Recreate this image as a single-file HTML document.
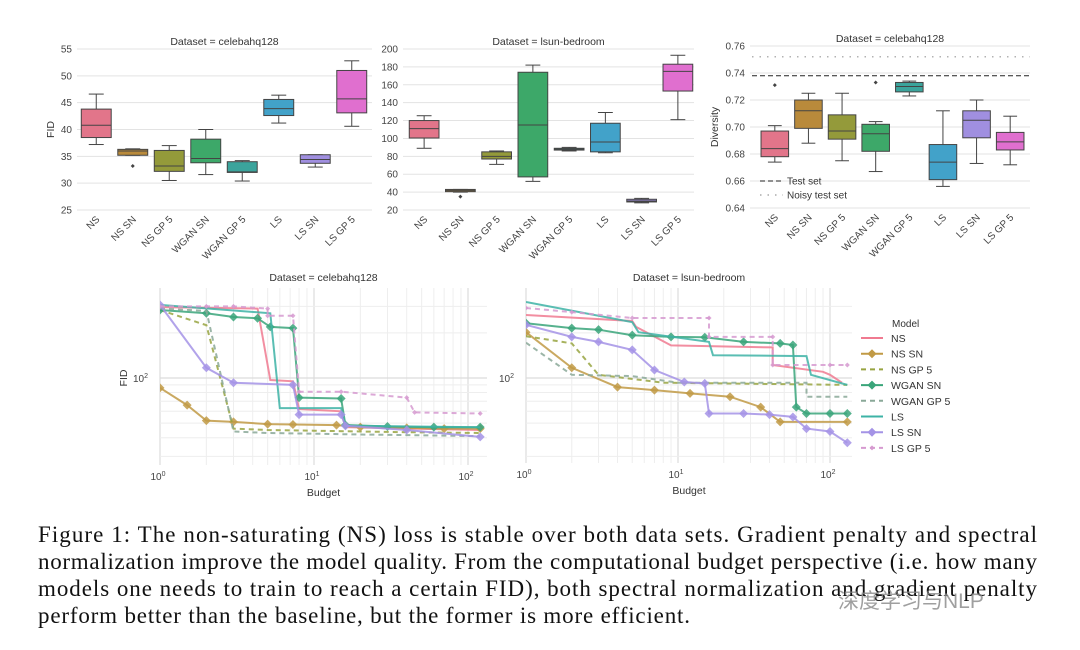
<!DOCTYPE html>
<html><head><meta charset="utf-8"><style>
body{margin:0;background:#fff;}
svg{display:block;font-family:"Liberation Sans","DejaVu Sans",sans-serif;}
</style></head><body>
<svg id="fig" width="1080" height="650" viewBox="0 0 1080 650">
<rect width="1080" height="650" fill="#fff"/>
<g font-family="'Liberation Serif',serif" font-size="23" fill="#111">
<text x="38" y="542" textLength="999" lengthAdjust="spacing">Figure 1: The non-saturating (NS) loss is stable over both data sets. Gradient penalty and spectral</text>
<text x="38" y="569" textLength="999" lengthAdjust="spacing">normalization improve the model quality. From the computational budget perspective (i.e. how many</text>
<text x="38" y="596" textLength="999" lengthAdjust="spacing">models one needs to train to reach a certain FID), both spectral normalization and gradient penalty</text>
<text x="38" y="623" textLength="652" lengthAdjust="spacing">perform better than the baseline, but the former is more efficient.</text>
</g>
<text x="838" y="608" font-size="21" fill="#888" font-family="'Liberation Sans','Noto Sans CJK SC',sans-serif" opacity="0.8">深度学习与NLP</text>
</svg>
<script>
const cats = ['NS','NS SN','NS GP 5','WGAN SN','WGAN GP 5','LS','LS SN','LS GP 5'];
const boxColors = ['#e2758a','#b98a3b','#949a3a','#3da869','#3ba49c','#42a2c9','#a08fe0','#e06fcf'];
// [min, q1, median, q3, max]
const celebaFID = [[37.2,38.5,40.8,43.8,46.6],[35.2,35.2,36.0,36.3,36.4],[30.5,32.2,33.2,36.1,37.0],[31.6,33.8,34.6,38.2,40.0],[30.4,32.0,32.1,34.0,34.2],[41.2,42.6,43.9,45.6,46.4],[33.0,33.7,34.4,35.3,35.3],[40.6,43.1,45.7,51.0,52.8]];
const celebaOut = [[],[33.2],[],[],[],[],[],[]];
const lsunFID = [[89,100.5,111,120,125.4],[40,40.5,42,43,43],[71,77,80,85,86],[52,57,115,174,182],[86,87,88,89,90],[84,85,96,117,129],[28,29,30,32,33],[121,153,175,183,193]];
const lsunOut = [[],[35],[],[],[],[],[],[]];
const divData = [[0.674,0.678,0.684,0.697,0.701],[0.688,0.699,0.712,0.720,0.725],[0.675,0.691,0.697,0.709,0.725],[0.667,0.682,0.695,0.702,0.704],[0.723,0.726,0.730,0.733,0.734],[0.656,0.661,0.674,0.687,0.712],[0.673,0.692,0.705,0.712,0.720],[0.672,0.683,0.689,0.696,0.708]];
const divOut = [[0.731],[],[],[0.733],[],[],[],[]];
const celebaTicks = [25,30,35,40,45,50,55];
const lsunTicks = [20,40,60,80,100,120,140,160,180,200];
const divTicks = [0.64,0.66,0.68,0.70,0.72,0.74,0.76];
const testSet = 0.738;
const noisyTestSet = 0.752;

const lineColors = ['#f07a90','#c19a45','#98a441','#3aa57a','#8aa898','#3db3a6','#a493e6','#d69ad0'];
const lineDash = ['','','5,4','','5,4','','','5,4'];
const lineMarker = [false,true,false,true,false,false,true,true];
const celebaB = [
 [1,4.3,5.2,7.3,8,15,16,120],
 [1,1.5,2,3,5,7.3,14,20,40,70,120],
 [1,2,3,5,10,20,40,120],
 [1,2,3,4.3,5.2,7.3,8,15,16,30,60,120],
 [1,2,3,5,10,20,50,120],
 [1,5.2,6,15,16,120],
 [1,2,3,7.3,8,15,16,40,120],
 [1,2,3,5,5,7.3,8,15,40,45,120]];
const celebaV = [
 [297,290,97,95,62,60,47,45],
 [86,66,52,51,49.3,49,48.5,47,46.5,46,46],
 [284,225,46,45,44.5,44,43.5,43],
 [284,270,255,250,219,215,74,73,48.6,47.5,47,47],
 [290,280,44,43,42.5,42,41.5,41],
 [307,270,63,63,48,47],
 [307,117,93,90,57,57,48,45,40.5],
 [300,300,300,290,260,260,81,81,74,59,58]];
const lsunB = [
 [1,5,5.3,9,42,42,90,100,120],
 [1,2,4,7,12,22,35,47,130],
 [1,2,3,8,130],
 [1,2,3,5,9,15,27,47,57,60,70,100,130],
 [1,2,5,10,70,70,130],
 [1,5,5.5,16,17,70,75,130],
 [1,2,3,5,7,11,15,16,27,40,57,70,100,130],
 [1,2,5,16,16,42,42,100,130]];
const lsunV = [
 [263,240,219,165,160,122,110,105,93],
 [202,117,87,83,79,75,64,51,51],
 [190,170,105,93,90],
 [232,215,210,193,188,187,174,170,166,64,58,58,58],
 [172,105,103,93,93,75,75],
 [321,236,202,174,142,140,105,90],
 [226,188,174,154,113,94,92,58,58,57,55,46,44,37],
 [293,275,251,251,188,188,122,122,122]];

const NS = 'http://www.w3.org/2000/svg';
const svg = document.getElementById('fig');
function mk(tag, attrs, parent){
  const e = document.createElementNS(NS, tag);
  for (const k in attrs) e.setAttribute(k, attrs[k]);
  (parent||svg).appendChild(e);
  return e;
}
function txt(s, attrs, parent){ const t = mk('text', attrs, parent); t.textContent = s; return t; }

function boxPanel(p){
  const g = mk('g', {});
  
  
  const fy = v => p.y1 - (v - p.vmin) / (p.vmax - p.vmin) * (p.y1 - p.y0);
  p.ticks.forEach(t => {
    const y = fy(t);
    const l = mk('line', {x1:p.gx0, x2:p.gx1, y1:y, y2:y, stroke:'#e3e3e3', 'stroke-width':1}, g);
    
    
    const lab = txt(p.fmt(t), {x:p.gx0-5, y:y+3.5, 'font-size':10, fill:'#444', 'text-anchor':'end'}, g);
    
    
  });
  const band = (p.x1 - p.x0) / cats.length;
  const bw = band * 0.82;
  if (p.refs) p.refs(g, fy);
  cats.forEach((c, i) => {
    const cx = p.x0 + band * (i + 0.5);
    const d = p.data[i];
    const bg = mk('g', {}, g);
    
    
    mk('line', {x1:cx, x2:cx, y1:fy(d[0]), y2:fy(d[1]), stroke:'#444', 'stroke-width':1}, bg);
    mk('line', {x1:cx, x2:cx, y1:fy(d[3]), y2:fy(d[4]), stroke:'#444', 'stroke-width':1}, bg);
    mk('line', {x1:cx-bw/4, x2:cx+bw/4, y1:fy(d[0]), y2:fy(d[0]), stroke:'#444', 'stroke-width':1}, bg);
    mk('line', {x1:cx-bw/4, x2:cx+bw/4, y1:fy(d[4]), y2:fy(d[4]), stroke:'#444', 'stroke-width':1}, bg);
    mk('rect', {x:cx-bw/2, y:fy(d[3]), width:bw, height:Math.max(1.5, fy(d[1])-fy(d[3])), fill:boxColors[i], stroke:'#444', 'stroke-width':1}, bg);
    mk('line', {x1:cx-bw/2, x2:cx+bw/2, y1:fy(d[2]), y2:fy(d[2]), stroke:'#444', 'stroke-width':1}, bg);
    p.out[i].forEach(o => {
      const dot = mk('path', {d:`M${cx},${fy(o)-2}L${cx+2},${fy(o)}L${cx},${fy(o)+2}L${cx-2},${fy(o)}Z`, fill:'#444'}, bg);
      
      
    });
    const lab = txt(c, {x:0, y:0, 'font-size':10, fill:'#444', 'text-anchor':'end', transform:`translate(${cx+4},${p.y1+10}) rotate(-45)`}, g);
    
    
  });
  const tt = txt(p.title, {x:(p.gx0+p.gx1)/2, y:p.y0-4, 'font-size':10.5, fill:'#333', 'text-anchor':'middle'}, g);
  
  
  if (p.ylabel){
    const yl = txt(p.ylabel, {x:0, y:0, 'font-size':10.5, fill:'#333', 'text-anchor':'middle', transform:`translate(${p.ylx},${(p.y0+p.y1)/2}) rotate(-90)`}, g);
    
    
  }
}

boxPanel({name:'celeba-fid-boxplot', title:'Dataset = celebahq128', x0:78, x1:370, gx0:77, gx1:372, y0:49, y1:210, vmin:25, vmax:55, ticks:celebaTicks, fmt:t=>String(t), data:celebaFID, out:celebaOut, ylabel:'FID', ylx:54});
boxPanel({name:'lsun-fid-boxplot', title:'Dataset = lsun-bedroom', x0:406, x1:696, gx0:403, gx1:694, y0:49, y1:210, vmin:20, vmax:200, ticks:lsunTicks, fmt:t=>String(t), data:lsunFID, out:lsunOut});
boxPanel({name:'diversity-boxplot', title:'Dataset = celebahq128', x0:758, x1:1027, gx0:750, gx1:1030, y0:46, y1:208, vmin:0.64, vmax:0.76, ticks:divTicks, fmt:t=>t.toFixed(2), data:divData, out:divOut, ylabel:'Diversity', ylx:718,
  refs:(g, fy)=>{
    const a = mk('line', {x1:752, x2:1030, y1:fy(testSet), y2:fy(testSet), stroke:'#222', 'stroke-width':1, 'stroke-dasharray':'5,3'}, g);
    
    
    const b = mk('line', {x1:752, x2:1030, y1:fy(noisyTestSet), y2:fy(noisyTestSet), stroke:'#999', 'stroke-width':1.2, 'stroke-dasharray':'1.5,6'}, g);
    
    
    const lg = mk('g', {}, g);
    
    
    mk('line', {x1:760, x2:783, y1:181, y2:181, stroke:'#222', 'stroke-dasharray':'5,3'}, lg);
    txt('Test set', {x:787, y:184.5, 'font-size':10, fill:'#333'}, lg);
    mk('line', {x1:760, x2:783, y1:195, y2:195, stroke:'#999', 'stroke-width':1.2, 'stroke-dasharray':'1.5,6'}, lg);
    txt('Noisy test set', {x:787, y:198.5, 'font-size':10, fill:'#333'}, lg);
  }});

function linePanel(p){
  const g = mk('g', {});
  
  
  const fx = b => p.x0 + Math.log10(b) * p.dec;
  const fy = v => p.yRef - (Math.log10(v) - 2) * 150;
  for (let d = 0; d <= 2; d++) for (let k = 1; k <= 9; k++){
    const x = fx(k * Math.pow(10, d));
    if (x > p.x1) continue;
    mk('line', {x1:x, x2:x, y1:p.y0, y2:p.y1, stroke:k===1?'#dcdcdc':'#eeeeee', 'stroke-width':k===1?1.2:1}, g);
  }
  [20,30,40,50,60,70,80,90,100,200,300,400].forEach(v => {
    const y = fy(v);
    if (y < p.y0 || y > p.y1) return;
    mk('line', {x1:p.x0, x2:p.x1, y1:y, y2:y, stroke:v===100?'#dcdcdc':'#eeeeee', 'stroke-width':v===100?1.2:1}, g);
  });
  const clipId = 'clip-' + p.name;
  const cp = mk('clipPath', {id:clipId}, g);
  mk('rect', {x:p.x0, y:p.y0, width:p.x1-p.x0, height:p.y1-p.y0}, cp);
  const sg = mk('g', {'clip-path':`url(#${clipId})`}, g);
  cats.forEach((c, i) => {
    const B = p.B[i], V = p.V[i];
    const pts = B.map((b, j) => `${fx(b).toFixed(1)},${fy(V[j]).toFixed(1)}`).join(' ');
    const pl = mk('polyline', {points:pts, fill:'none', stroke:lineColors[i], 'stroke-width':2, 'stroke-dasharray':lineDash[i], opacity:0.85}, sg);
    
    
    if (lineMarker[i]) B.forEach((b, j) => {
      const x = fx(b), y = fy(V[j]), r = i === 7 ? 2.5 : 4.5;
      const m = mk('path', {d:`M${x},${y-r}L${x+r},${y}L${x},${y+r}L${x-r},${y}Z`, fill:lineColors[i], opacity:0.85}, sg);
      
      
    });
  });
  ['0','1','2'].forEach((e, d) => {
    const x = fx(Math.pow(10, d));
    const t = txt('10', {x:x-2, y:p.y1+15, 'font-size':10, fill:'#444', 'text-anchor':'middle'}, g);
    const s = mk('tspan', {dy:-4, 'font-size':7}, t); s.textContent = e;
    
    
  });
  const yt = txt('10', {x:p.x0-12, y:fy(100)+4, 'font-size':10, fill:'#444', 'text-anchor':'end'}, g);
  const ys = mk('tspan', {dy:-4, 'font-size':7}, yt); ys.textContent = '2';
  
  
  const tt = txt(p.title, {x:(p.x0+p.x1)/2, y:p.y0-7, 'font-size':10.5, fill:'#333', 'text-anchor':'middle'}, g);
  
  
  const xl = txt('Budget', {x:(p.x0+p.x1)/2, y:p.y1+31, 'font-size':10.5, fill:'#333', 'text-anchor':'middle'}, g);
  
  
  if (p.ylabel){
    const yl = txt('FID', {x:0, y:0, 'font-size':10.5, fill:'#333', 'text-anchor':'middle', transform:`translate(${p.x0-33},${fy(100)}) rotate(-90)`}, g);
    
    
  }
}
linePanel({name:'celeba-budget-plot', title:'Dataset = celebahq128', x0:160, x1:487, dec:154, y0:288, y1:465, yRef:378, B:celebaB, V:celebaV, ylabel:true});
linePanel({name:'lsun-budget-plot', title:'Dataset = lsun-bedroom', x0:526, x1:852, dec:152, y0:288, y1:463, yRef:378, B:lsunB, V:lsunV});

const lg = mk('g', {});


txt('Model', {x:892, y:327, 'font-size':10, fill:'#333'}, lg);
cats.forEach((c, i) => {
  const y = 338 + i * 15.7;
  const e = mk('g', {}, lg);
  
  
  mk('line', {x1:861, x2:883, y1:y, y2:y, stroke:lineColors[i], 'stroke-width':2, 'stroke-dasharray':lineDash[i]}, e);
  if (lineMarker[i]){ const r = i===7?2.5:4.5; mk('path', {d:`M872,${y-r}L${872+r},${y}L872,${y+r}L${872-r},${y}Z`, fill:lineColors[i]}, e); }
  txt(c, {x:891, y:y+4, 'font-size':10.5, fill:'#333'}, e);
});
</script>
</body></html>
